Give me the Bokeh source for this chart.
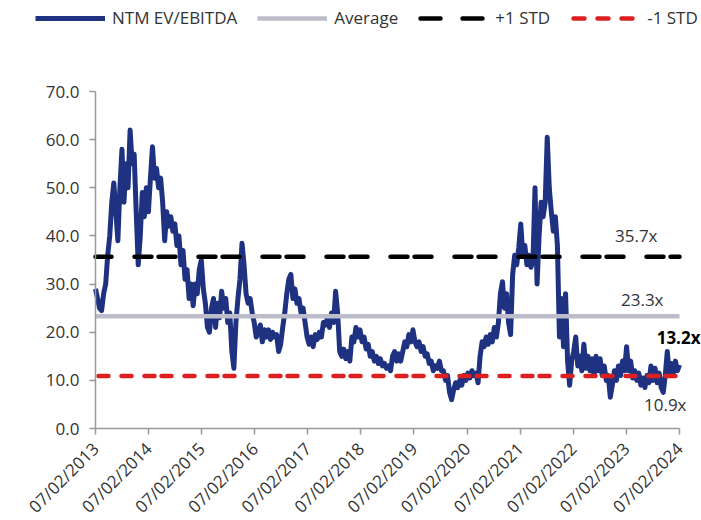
from math import pi
import pandas as pd
from bokeh.plotting import figure
from bokeh.models import (Range1d, FixedTicker, DatetimeTickFormatter, NumeralTickFormatter,
                          Legend, LegendItem, Label)
from bokeh.core.properties import value
from bokeh.embed import file_html
from bokeh.resources import INLINE

# NTM EV/EBITDA, read roughly every two weeks from 07/02/2013
ev_2013 = [29, 27, 25, 24.5, 28, 30, 36, 40, 47, 51, 45, 39, 50, 58, 47, 55, 50, 62, 55, 57, 45, 34, 40, 49, 44, 50]
ev_2014 = [45, 52, 58.5, 52, 54, 50, 52, 47, 39, 45, 42, 44, 41, 42.5, 38, 40, 34, 37, 31, 33, 27, 30, 25.5, 30, 28, 33]
ev_2015 = [35, 29, 26, 21, 20, 25, 27, 21, 26, 23, 28.5, 25, 27, 22, 24, 16, 12.5, 22, 27, 31, 38.5, 34, 28, 26, 27, 24]
ev_2016 = [22, 19, 20, 21.5, 18, 20.5, 19, 20.5, 18.5, 20, 19, 19.5, 16, 17.5, 21, 24, 28, 31, 32, 27, 29, 26, 27, 24, 25, 22]
ev_2017 = [19, 17.5, 19, 17, 19.5, 18.5, 20, 19, 22, 21.5, 23, 21, 24, 22, 28.5, 24, 16, 15, 16.5, 14.5, 16, 14, 19, 18, 21, 19]
ev_2018 = [20.5, 18, 19, 16.5, 17.5, 15, 16, 14, 15, 13.5, 14.5, 13, 13.5, 12.5, 13, 12, 15, 16, 14, 15.5, 14, 16, 18, 17, 19.5, 18]
ev_2019 = [20.5, 18, 17, 18, 16, 17, 15, 15.5, 13.5, 14, 12, 13, 12.5, 14, 12, 12, 10, 11, 7.5, 6, 8, 9.5, 8.5, 10, 9, 11]
ev_2020 = [10, 11.5, 10.5, 12, 11, 11.5, 9.5, 15, 18, 17, 19, 17.5, 19.5, 18, 21, 19, 22, 28, 30.5, 25, 28, 22, 19.5, 32, 36, 34]
ev_2021 = [37.5, 42.5, 36, 38, 34, 36, 33.5, 35, 50, 30, 40, 47, 44, 47, 60.5, 50, 45, 41, 44, 38, 19, 27, 17, 28, 14, 9]
ev_2022 = [14, 16, 19, 13, 15, 12, 17.5, 12.5, 15, 12, 14.5, 11, 15, 12, 14.5, 11, 13, 10, 11, 6.5, 9, 12, 10, 13, 11, 14]
ev_2023 = [12, 17, 12, 14, 10.5, 12, 10, 11.5, 9, 10.5, 8.5, 11, 9.5, 13, 10, 12.5, 9.5, 11.5, 8.5, 7.5, 11, 16, 11, 13.5, 11.5, 14, 12]
LAST_VALUE = 13.2

AVERAGE = 23.3
PLUS_STD = 35.7
MINUS_STD = 10.9

START = "2013-07-02"
END = "2024-07-02"
tick_labels = ["07/02/%d" % y for y in range(2013, 2025)]
y_ticks = [0, 10, 20, 30, 40, 50, 60, 70]
Y_MIN, Y_MAX = 0, 70

values = (ev_2013 + ev_2014 + ev_2015 + ev_2016 + ev_2017 + ev_2018 + ev_2019 + ev_2020
          + ev_2021 + ev_2022 + ev_2023 + [LAST_VALUE])
dates = list(pd.date_range(START, periods=len(values) - 1, freq="14D")) + [pd.Timestamp(END)]

def ms(d):
    return pd.Timestamp(d).timestamp() * 1000.0

start_ms, end_ms = ms(START), ms(END)
tick_ms = [ms(pd.to_datetime(t, format="%m/%d/%Y")) for t in tick_labels]

# ---- layout (pixels) ----
W, H = 701, 520
AX_LEFT, AX_RIGHT = 95, 679      # x pixel of first / last date tick
AX_TOP, AX_BOTTOM = 91, 428      # y pixel of 70 and 0
ms_per_px = (end_ms - start_ms) / (AX_RIGHT - AX_LEFT)
val_per_px = (Y_MAX - Y_MIN) / (AX_BOTTOM - AX_TOP)
x_range = Range1d(start_ms - AX_LEFT * ms_per_px, start_ms + (W - AX_LEFT) * ms_per_px)
y_range = Range1d(Y_MIN - (H - AX_BOTTOM) * val_per_px, Y_MAX + AX_TOP * val_per_px)

FONT = "Open Sans"
TXT = "#333333"
BLUE, GREY, BLACK, RED = "#1E3281", "#BCBCCA", "black", "#DC1F1F"

p = figure(x_axis_type="datetime", output_backend="svg", toolbar_location=None,
           width=W, height=H, min_border=0, x_range=x_range, y_range=y_range)
p.xgrid.visible = False
p.ygrid.visible = False
p.outline_line_color = None
p.background_fill_color = "white"
p.border_fill_color = "white"

r_ev = p.line(dates, values, line_color=BLUE, line_width=5, line_join="round")
ends = [pd.Timestamp(START), pd.Timestamp(END)]
r_avg = p.line(ends, [AVERAGE, AVERAGE], line_color=GREY, line_width=4.5)
p.line(ends, [PLUS_STD, PLUS_STD], line_color=BLACK, line_width=4.5,
       line_dash="17 7 17 23", line_dash_offset=25, line_cap="round")
p.line(ends, [MINUS_STD, MINUS_STD], line_color=RED, line_width=4.5,
       line_dash="10 13 10 13 10 7", line_dash_offset=60, line_cap="round")

# legend swatches: same styles, dash phase matched to the legend box (one missing point,
# so nothing is drawn in the plot itself)
nan_pt = dict(x=[pd.Timestamp(START)], y=[float("nan")])
lg_plus = p.line(line_color=BLACK, line_width=4.5, line_dash="20 22", line_dash_offset=40,
                 line_cap="round", **nan_pt)
lg_minus = p.line(line_color=RED, line_width=4.5, line_dash="11 13", line_dash_offset=21,
                  line_cap="round", **nan_pt)

for ax in (p.xaxis[0], p.yaxis[0]):
    ax.axis_line_color = "#999999"
    ax.axis_line_width = 1.5
    ax.major_tick_line_color = "#999999"
    ax.major_tick_line_width = 1.5
    ax.major_tick_out = 6
    ax.major_tick_in = 0
    ax.minor_tick_out = 0
    ax.minor_tick_in = 0
    ax.major_label_text_font = FONT
    ax.major_label_text_font_size = "17px"
    ax.major_label_text_color = TXT

p.yaxis.fixed_location = start_ms
p.yaxis.bounds = (Y_MIN, Y_MAX)
p.yaxis.ticker = FixedTicker(ticks=y_ticks)
p.yaxis.formatter = NumeralTickFormatter(format="0.0")
p.yaxis.major_label_standoff = 10

p.xaxis.fixed_location = Y_MIN
p.xaxis.bounds = (start_ms, end_ms)
p.xaxis.ticker = FixedTicker(ticks=tick_ms)
fmt = "%m/%d/%Y"
p.xaxis.formatter = DatetimeTickFormatter(years=fmt, months=fmt, days=fmt, hours=fmt,
                                          minutes=fmt, seconds=fmt, milliseconds=fmt,
                                          microseconds=fmt, hourmin=fmt, minsec=fmt)
p.xaxis.major_label_orientation = pi / 4
p.xaxis.major_label_standoff = 11

legend = Legend(items=[LegendItem(label=value("NTM EV/EBITDA"), renderers=[r_ev]),
                       LegendItem(label=value("Average"), renderers=[r_avg]),
                       LegendItem(label=value("+1 STD"), renderers=[lg_plus]),
                       LegendItem(label=value("-1 STD"), renderers=[lg_minus])],
                location=(35, H - 29), orientation="horizontal",
                glyph_width=70, glyph_height=20, label_height=20, label_standoff=7, spacing=20,
                padding=0, margin=0, border_line_color=None, background_fill_alpha=0,
                label_text_font=FONT, label_text_font_size="17px", label_text_color=TXT)
p.add_layout(legend)

def ann(y, text, dx, dy, bold=False):
    p.add_layout(Label(x=end_ms, y=y, x_offset=dx, y_offset=dy, text=text,
                       text_align="right", text_baseline="middle",
                       text_font=FONT, text_font_size="17px",
                       text_font_style="bold" if bold else "normal",
                       text_color="black" if bold else TXT))

ann(PLUS_STD, "%.1fx" % PLUS_STD, -22, 21)
ann(AVERAGE, "%.1fx" % AVERAGE, -16, 17)
ann(LAST_VALUE, "%.1fx" % LAST_VALUE, 21, 27, bold=True)
ann(MINUS_STD, "%.1fx" % MINUS_STD, 7, -28)

open("out.html", "w").write(file_html(p, INLINE))
